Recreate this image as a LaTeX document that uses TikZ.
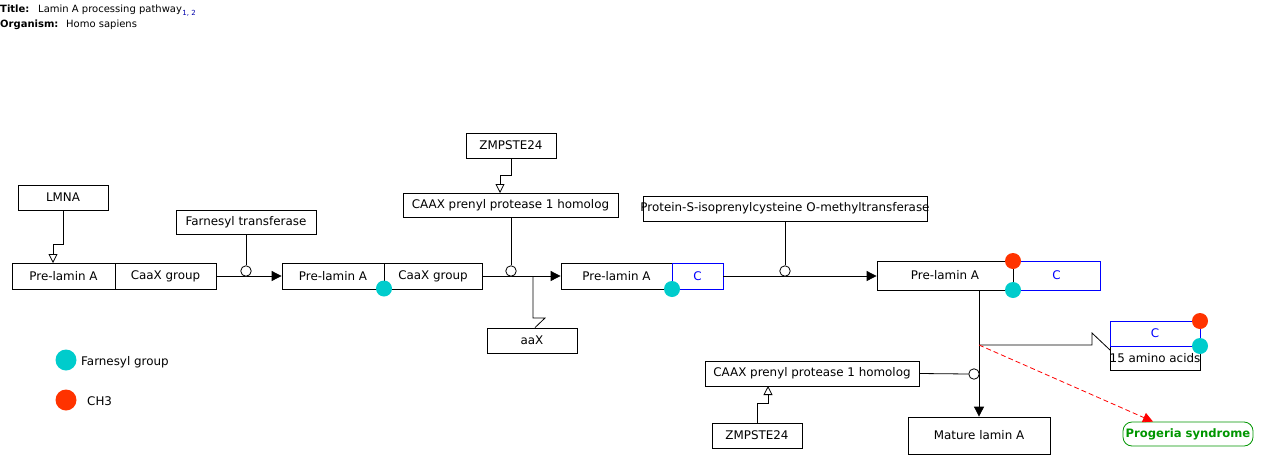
\documentclass[tikz,border=0pt]{standalone}
\usepackage{fontspec}
\setmainfont{DejaVu Sans}
\usetikzlibrary{arrows.meta}
\definecolor{farncol}{RGB}{0,204,204}
\definecolor{methcol}{RGB}{255,51,0}
\definecolor{pgreen}{RGB}{0,150,0}
\definecolor{refblue}{RGB}{0,0,255}
\definecolor{linkblue}{RGB}{0,0,170}
\begin{document}
\begin{tikzpicture}[x=1pt,y=-1pt,
  font=\fontsize{11.9}{13}\selectfont,
  box/.style={draw=black, line width=0.8pt, fill=white, inner sep=0pt},
  bbox/.style={box, draw=refblue, text=refblue},
  conv/.style={line width=0.8pt, -{Triangle[length=10pt,width=10pt]}},
  trans/.style={line width=0.8pt, -{Triangle[open,length=9pt,width=9pt]}},
  link/.style={line width=0.8pt},
  cat/.style={circle, draw=black, fill=white, line width=0.8pt, minimum size=10.5pt, inner sep=0pt},
  farn/.style={circle, fill=farncol, minimum size=16pt, inner sep=0pt},
  meth/.style={circle, fill=methcol, minimum size=16pt, inner sep=0pt},
  ttl/.style={anchor=base west, inner sep=0pt, font=\fontsize{10}{12}\selectfont}]
\useasboundingbox (0,0) rectangle (1267,469);

% title
\node[ttl, font=\fontsize{10}{12}\selectfont\bfseries] (tlab) at (0,12.5) {Title:};
\node[ttl] (tval) at (38,12.5) {Lamin A processing pathway};
\node[ttl, anchor=base west, font=\fontsize{7}{8}\selectfont, text=linkblue] (tref) at ([yshift=-2.5pt]tval.base east) {1, 2};
\node[ttl, font=\fontsize{10}{12}\selectfont\bfseries] (olab) at (0,27.5) {Organism:};
\node[ttl] (oval) at (66,27.5) {Homo sapiens};

% boxes
\node[box, minimum width=90pt, minimum height=25pt] (lmna) at (63,197.5) {LMNA};
\node[box, minimum width=103pt, minimum height=26pt] (pl1) at (63.5,276) {Pre-lamin A};
\node[box, minimum width=101pt, minimum height=26pt] (caax1) at (165.5,276) {CaaX group};
\node[box, minimum width=140pt, minimum height=24pt] (ft) at (246,222) {Farnesyl transferase};
\node[box, minimum width=102pt, minimum height=26pt] (pl2) at (333,276) {Pre-lamin A};
\node[box, minimum width=98pt, minimum height=26pt] (caax2) at (433,276) {CaaX group};
\node[box, minimum width=90pt, minimum height=25pt] (zmp1) at (511,145.5) {ZMPSTE24};
\node[box, minimum width=215pt, minimum height=24pt] (cpp1) at (510.5,205) {CAAX prenyl protease 1 homolog};
\node[box, minimum width=90pt, minimum height=25pt] (aax) at (532,340.5) {aaX};
\node[box, minimum width=111pt, minimum height=26pt] (pl3) at (616.5,276) {Pre-lamin A};
\node[bbox, minimum width=51pt, minimum height=26pt] (c3) at (697.5,276) {C};
\node[box, minimum width=284pt, minimum height=25pt] (pict) at (785,208.5) {\makebox[0pt]{Protein-S-isoprenylcysteine O-methyltransferase}};
\node[box, minimum width=136pt, minimum height=29pt] (pl4) at (945,275.5) {Pre-lamin A};
\node[bbox, minimum width=87pt, minimum height=29pt] (c4) at (1056.5,275.5) {C};
\draw[link] (pl4.north east) -- (pl4.south east);
\node[box, minimum width=142pt, minimum height=37pt] (mature) at (979,435.5) {Mature lamin A};
\node[box, minimum width=214pt, minimum height=25pt] (cpp2) at (812,373.5) {CAAX prenyl protease 1 homolog};
\node[box, minimum width=90pt, minimum height=25pt] (zmp2) at (757,435.5) {ZMPSTE24};
\node[box, minimum width=90pt, minimum height=24pt] (aa15) at (1155,358) {\makebox[0pt]{15 amino acids}};
\node[bbox, minimum width=90pt, minimum height=25pt] (c5) at (1155,333.5) {C};
\node[box, draw=pgreen, text=pgreen, rounded corners=9pt, minimum width=130pt, minimum height=24pt, font=\fontsize{11.6}{13}\selectfont\bfseries] (prog) at (1188,434) {Progeria syndrome};

% connectors
\draw[trans] (lmna.south) -- (63,244) -- (53,244) -- (53,263);
\draw[conv] (caax1.east) -- (pl2.west);
\node[cat] (k1) at (246,271) {};
\draw[link] (ft.south) -- (k1.north);

\draw[trans] (zmp1.south) -- (511,175) -- (500,175) -- (500,193);
\draw[conv] (caax2.east) -- (pl3.west);
\node[cat] (k2) at (511,271) {};
\draw[link] (511,217) -- (k2.north);
\coordinate (s1) at (533,276);
\draw[link] (s1) -- (533,318) -- (545,318) -- ([xshift=3pt]aax.north);

\draw[conv] (c3.east) -- (c3.east -| pl4.west);
\node[cat] (k3) at (785,271) {};
\draw[link] (pict.south) -- (k3.north);

\draw[conv] ([xshift=34pt]pl4.south) -- (mature.north);
\node[cat] (k4) at (974,374) {};
\draw[link] (cpp2.east) -- (k4.west);
\draw[trans] (zmp2.north) -- (757,403) -- (768,403) -- (768,386);

\coordinate (br) at (979,345);
\draw[link] (br) -- (1092,345) -- (1092,333) -- (1110,350);
\draw[red, line width=0.8pt, dash pattern=on 5pt off 3pt, -{Triangle[length=10pt,width=10pt]}] (br) -- ([xshift=-35pt]prog.north);

% modification dots
\node[farn] (f2) at (384,288.5) {};
\node[farn] (f3) at (672,289) {};
\node[meth] (m4) at (1013,261) {};
\node[farn] (f4) at (1013,290) {};
\node[meth] (m5) at (1200,321) {};
\node[farn] (f5) at (1200,346) {};

% legend
\node[farn, minimum size=21pt] (lf) at (66,360) {};
\node[anchor=west, inner sep=0pt] (lft) at (81,362) {Farnesyl group};
\node[meth, minimum size=21pt] (lm) at (66,400) {};
\node[anchor=west, inner sep=0pt] (lmt) at (87,401) {CH3};
\end{tikzpicture}
\end{document}
